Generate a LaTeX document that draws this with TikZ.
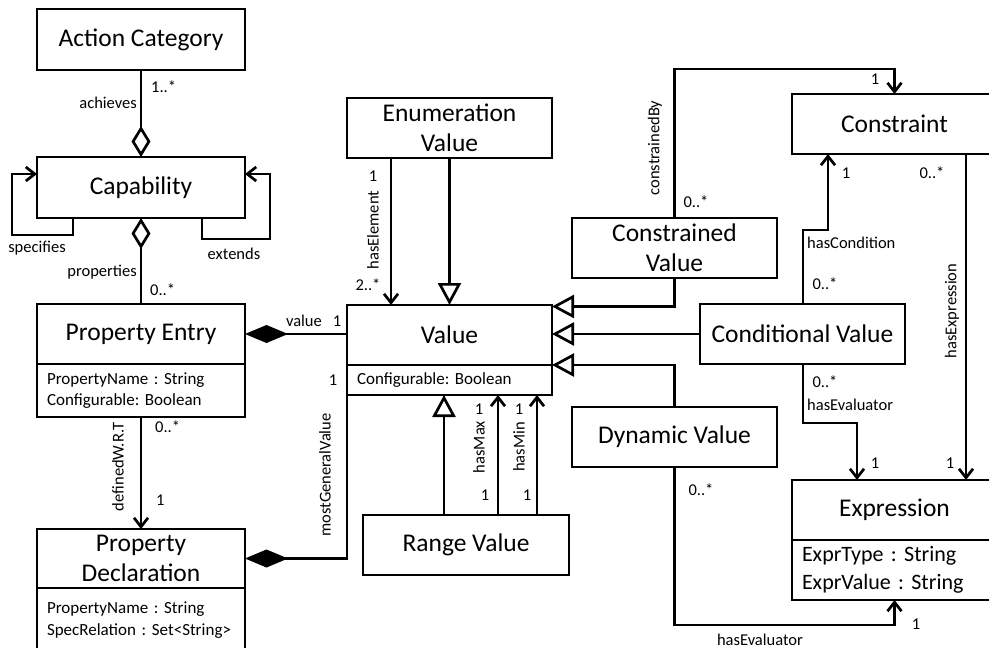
\documentclass[tikz,border=0pt]{standalone}
\usepackage{fontspec}
\setmainfont{Carlito}
\usetikzlibrary{arrows.meta}
\frenchspacing
\begin{document}
\begin{tikzpicture}[x=1pt,y=-1pt,
  cls/.style={draw,line width=2.7pt,outer sep=0pt,inner sep=0pt,anchor=north west,
    align=center,font=\fontsize{25.5}{30}\selectfont},
  attr/.style={draw,line width=2.7pt,outer sep=0pt,inner xsep=10pt,inner ysep=0pt,
    anchor=north west,align=left,font=\fontsize{17}{21.5}\selectfont},
  lbl/.style={font=\fontsize{16.5}{20}\selectfont,inner sep=0pt},
  conn/.style={line width=2.7pt},
  assoc/.style={conn,-{Straight Barb[length=9pt,width=14pt]}},
  gen/.style={conn,-{Triangle[open,length=22pt,width=23pt]}},
  agg/.style={conn,{Diamond[open,length=31pt,width=19pt]}-},
  comp/.style={conn,{Diamond[length=43pt,width=18pt]}-},
]
\useasboundingbox (0,0) rectangle (989,648);
\clip (0,0) rectangle (989,648);

% classes
\node[cls,minimum width=208pt,minimum height=61pt] (ac) at (37,9) {Action Category};
\node[cls,minimum width=208pt,minimum height=61pt] (cap) at (37,157) {Capability};
\node[cls,minimum width=208pt,minimum height=60pt] (pe) at (37,304) {Property Entry};
\node[attr,text width=188pt,minimum height=53pt] (peattr) at (37,364) {PropertyName : String\\Configurable: Boolean};
\node[cls,minimum width=208pt,minimum height=59pt] (pd) at (37,529) {Property\\Declaration};
\node[attr,text width=188pt,minimum height=64pt] (pdattr) at (37,588) {PropertyName : String\\SpecRelation : Set<String>};

\node[cls,minimum width=205pt,minimum height=60pt] (ev) at (347,98) {Enumeration\\Value};
\node[cls,minimum width=205pt,minimum height=60pt] (val) at (347,305) {Value};
\node[attr,text width=185pt,minimum height=30pt] (valattr) at (347,365) {Configurable: Boolean};
\node[cls,minimum width=206pt,minimum height=60pt] (rv) at (363,515) {Range Value};

\node[cls,minimum width=205pt,minimum height=60pt] (cv) at (572,218) {Constrained\\Value};
\node[cls,minimum width=205pt,minimum height=60pt] (cdv) at (700,304) {Conditional Value};
\node[cls,minimum width=205pt,minimum height=60pt] (dv) at (572,407) {Dynamic Value};
\node[cls,minimum width=205pt,minimum height=60pt] (con) at (792,94) {Constraint};
\node[cls,minimum width=205pt,minimum height=60pt] (ex) at (792,480) {Expression};
\node[attr,text width=185pt,minimum height=60pt,font=\fontsize{22}{28}\selectfont] (exattr) at (792,540) {ExprType : String\\ExprValue : String};

% helper points on class borders
\coordinate (rvg) at ([xshift=81pt]rv.north west);
\coordinate (rvmax) at ([xshift=135pt]rv.north west);
\coordinate (rvmin) at ([xshift=174pt]rv.north west);
\coordinate (cdvn) at ([xshift=103pt]cdv.north west);
\coordinate (cdvs) at ([xshift=103pt]cdv.south west);

% capability relations
\draw[agg] (cap.north) -- (ac.south);
\draw[agg] (cap.south) -- (pe.north);
\draw[assoc] ([xshift=36pt]cap.south west) |- (12,235) |- ([yshift=13.5pt]cap.west);
\draw[assoc] ([xshift=-43pt]cap.south east) |- (270,239) |- ([yshift=13.5pt]cap.east);

% property relations
\draw[comp] (pe.east) -- (pe.east -| val.west);
\draw[assoc] (peattr.south) -- (pd.north);
\draw[comp] (pd.east) -| (valattr.south west);

% value hierarchy
\draw[assoc] ([xshift=44pt]ev.south west) -- ([xshift=44pt]val.north west);
\draw[gen] (ev.south) -- (val.north);
\draw[gen] (rvg) -- (rvg |- valattr.south);
\draw[assoc] (rvmax) -- (rvmax |- valattr.south);
\draw[assoc] (rvmin) -- (rvmin |- valattr.south);
\draw[gen] (cv.south) |- ([yshift=-1.5pt]val.north east);
\draw[gen] (cdv.west) -- (cdv.west -| val.east);
\draw[gen] (dv.north) |- (val.south east);

% constraints and expressions
\draw[assoc] (cv.north) |- ([yshift=25pt]con.north) -- (con.north);
\draw[assoc] (cdvn) -- ++(0,-74) -| ([xshift=36pt]con.south west);
\draw[assoc] (cdvs) -- ++(0,59) -| ([xshift=65pt]ex.north west);
\draw[assoc] ([xshift=174pt]con.south west) -- ([xshift=174pt]ex.north west);
\draw[assoc] (dv.south) |- ([yshift=-25pt]exattr.south) -- (exattr.south);

% role names and multiplicities
\node[lbl,anchor=west] (m1) at (151,87) {1..*};
\node[lbl,anchor=east] (r1) at (137,103) {achieves};
\node[lbl] (r2) at (37,248) {specifies};
\node[lbl] (r3) at (234,254) {extends};
\node[lbl,anchor=east] (r4) at (137,272) {properties};
\node[lbl,anchor=west] (m2) at (150,290) {0..*};
\node[lbl,anchor=east] (r5) at (322,321) {value};
\node[lbl] (m3) at (337,321) {1};
\node[lbl,anchor=west] (m4) at (155,427) {0..*};
\node[lbl,anchor=west] (m5) at (156,500) {1};
\node[lbl,rotate=90] (r6) at (118,467) {definedW.R.T};
\node[lbl] (m6) at (333,380) {1};
\node[lbl,rotate=90] (r7) at (325,475) {mostGeneralValue};
\node[lbl] (m7) at (373,176) {1};
\node[lbl,rotate=90] (r8) at (373,230) {hasElement};
\node[lbl] (m8) at (368,285) {2..*};
\node[lbl] (m9) at (479,409) {1};
\node[lbl,rotate=90] (r9) at (479,447) {hasMax};
\node[lbl] (m10) at (485,495) {1};
\node[lbl] (m11) at (519,409) {1};
\node[lbl,rotate=90] (r10) at (519,447) {hasMin};
\node[lbl] (m12) at (527,495) {1};
\node[lbl] (m13) at (696,202) {0..*};
\node[lbl] (m14) at (875,79) {1};
\node[lbl,rotate=90] (r11) at (655,148) {constrainedBy};
\node[lbl] (m15) at (846,173) {1};
\node[lbl] (m16) at (932,173) {0..*};
\node[lbl,anchor=west] (r12) at (807,243) {hasCondition};
\node[lbl] (m17) at (825,284) {0..*};
\node[lbl] (m18) at (825,382) {0..*};
\node[lbl,anchor=west] (r13) at (807,405) {hasEvaluator};
\node[lbl] (m19) at (875,463) {1};
\node[lbl] (m20) at (950,463) {1};
\node[lbl,rotate=90] (r14) at (952,311) {hasExpression};
\node[lbl] (m21) at (701,490) {0..*};
\node[lbl] (m22) at (916,624) {1};
\node[lbl] (r15) at (760,640) {hasEvaluator};
\end{tikzpicture}
\end{document}
